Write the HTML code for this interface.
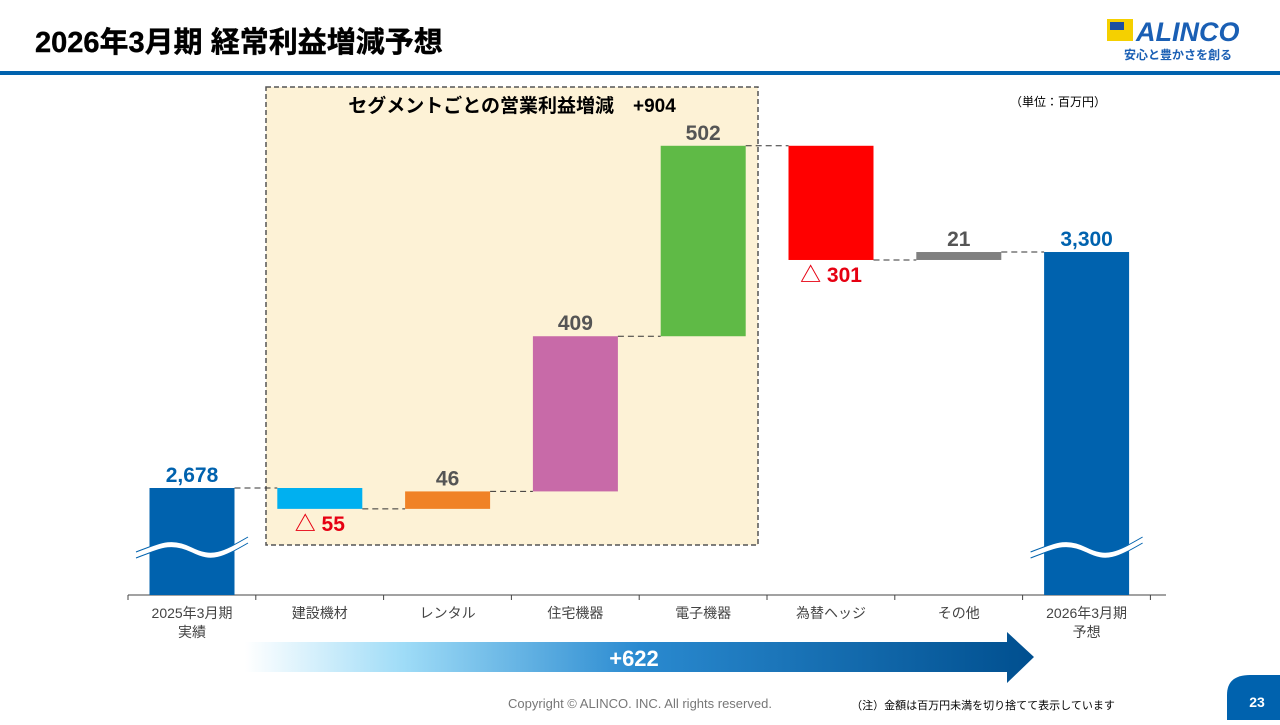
<!DOCTYPE html>
<html><head><meta charset="utf-8"><style>
body{margin:0;width:1280px;height:720px;overflow:hidden;background:#fff;font-family:"Liberation Sans","Noto Sans CJK JP",sans-serif;}
</style></head><body>
<svg id="c" width="1280" height="720" xmlns="http://www.w3.org/2000/svg" style="font-family:'Liberation Sans','Noto Sans CJK JP',sans-serif">
<defs>
<linearGradient id="ag" x1="0" x2="1" y1="0" y2="0"><stop offset="0" stop-color="#ffffff"/><stop offset="0.2" stop-color="#9fdcf7"/><stop offset="0.5" stop-color="#2a8ad0"/><stop offset="1" stop-color="#004f8f"/></linearGradient>
</defs>
<text x="35" y="52" font-size="29" font-weight="bold" fill="#000" stroke="#000" stroke-width="0.4">2026年3月期 経常利益増減予想</text>
<rect x="0" y="71" width="1280" height="4" fill="#0062ae"/>
<g>
<rect x="1107" y="19" width="26" height="22" fill="#f5d000"/><rect x="1110" y="22" width="14" height="8" fill="#1a4fa0"/>
<text x="1136" y="41" font-size="27" font-weight="bold" font-style="italic" fill="#1a5fb4">ALINCO</text>
<text x="1124" y="59" font-size="12" font-weight="bold" fill="#1a5fb4">安心と豊かさを創る</text>
</g>
<rect x="266" y="87" width="492" height="458" fill="#fdf2d6" stroke="#555" stroke-width="1.5" stroke-dasharray="5,3"/>
<text x="512" y="112" font-size="19" font-weight="bold" text-anchor="middle" fill="#000">セグメントごとの営業利益増減　+904</text>
<text x="1058" y="106" font-size="12" text-anchor="middle" fill="#000">（単位：百万円）</text>
<g id="plot"></g>
<g>
<polygon points="245,642 1007,642 1007,632 1034,657 1007,683 1007,672 245,672" fill="url(#ag)"/>
<text x="634" y="666" font-size="22" font-weight="bold" fill="#fff" text-anchor="middle">+622</text>
</g>
<text x="640" y="708" font-size="13" fill="#777" text-anchor="middle">Copyright © ALINCO. INC. All rights reserved.</text>
<text x="983" y="709" font-size="11" fill="#000" text-anchor="middle">（注）金額は百万円未満を切り捨てて表示しています</text>
<path d="M1227,720 L1227,695 Q1227,675 1250,675 L1280,675 L1280,720 Z" fill="#0062ae"/>
<text x="1257" y="707" font-size="14" font-weight="bold" fill="#fff" text-anchor="middle">23</text>
</svg>
<script>
const categories=["2025年3月期|実績","建設機材","レンタル","住宅機器","電子機器","為替ヘッジ","その他","2026年3月期|予想"];
const startValue=2678;
const deltas=[-55,46,409,502,-301,21];
const endValue=3300;
const colors=["#0062ae","#00b0f0","#f08226","#c86aa8","#5fba46","#ff0000","#808080","#0062ae"];
const NS="http://www.w3.org/2000/svg";
const plot=document.getElementById('plot');
function y(v){return 488-(v-startValue)*0.3794;}
function cx(i){return 192+i*127.8;}
const bw=85, axisY=595;
function el(t,a){const e=document.createElementNS(NS,t);for(const k in a)e.setAttribute(k,a[k]);plot.appendChild(e);return e;}
const ax=el('line',{x1:128,x2:1166,y1:axisY,y2:axisY,stroke:'#444','stroke-width':1});


for(let i=0;i<=categories.length;i++){const t=el('line',{x1:128+i*127.8,x2:128+i*127.8,y1:axisY,y2:axisY+5,stroke:'#444'});

}
categories.forEach((c,i)=>{const lines=c.split('|');lines.forEach((l,j)=>{const t=el('text',{x:cx(i),y:618+j*19,'font-size':14,fill:'#444','text-anchor':'middle'});t.textContent=l;

});});
function label(x,yy,txt,col){const t=el('text',{x:x,y:yy,'font-size':21,'font-weight':'bold',fill:col,'text-anchor':'middle'});t.textContent=txt;

}
function conn(x1,x2,yy){const l=el('line',{x1:x1,x2:x2,y1:yy,y2:yy,stroke:'#333','stroke-dasharray':'6,4','stroke-width':1});

}
function breakMark(i){const x=cx(i);const d=`M${x-56},${555} C${x-30},${545} ${x-20},${540} ${x},${550} C${x+20},${560} ${x+30},${555} ${x+56},${540}`;
const p=el('path',{d:d,stroke:'#fff','stroke-width':6,fill:'none'});


el('path',{d:d,stroke:'#0062ae','stroke-width':1,fill:'none',transform:'translate(0,-3)'});
el('path',{d:d,stroke:'#0062ae','stroke-width':1,fill:'none',transform:'translate(0,3)'});}
let b=el('rect',{x:cx(0)-bw/2,y:y(startValue),width:bw,height:axisY-y(startValue),fill:colors[0]});


breakMark(0);
label(cx(0),y(startValue)-6,startValue.toLocaleString('en-US'),'#0062ae');
let run=startValue;
deltas.forEach((d,k)=>{const i=k+1;const a=run,bnd=run+d;const top=y(Math.max(a,bnd)),bot=y(Math.min(a,bnd));
conn(cx(i-1)+bw/2,cx(i)-bw/2,y(a));
const r=el('rect',{x:cx(i)-bw/2,y:top,width:bw,height:Math.max(bot-top,7),fill:colors[i]});


if(d>=0) label(cx(i),top-6,String(d),'#555');
else label(cx(i),bot+Math.max(0,7-(bot-top))+22,'△ '+(-d),'#e60012');
run=bnd;});
conn(cx(6)+bw/2,cx(7)-bw/2,y(run));
const n=categories.length-1;
b=el('rect',{x:cx(n)-bw/2,y:y(endValue),width:bw,height:axisY-y(endValue),fill:colors[n]});


breakMark(n);
label(cx(n),y(endValue)-6,endValue.toLocaleString('en-US'),'#0062ae');
</script>
</body></html>
